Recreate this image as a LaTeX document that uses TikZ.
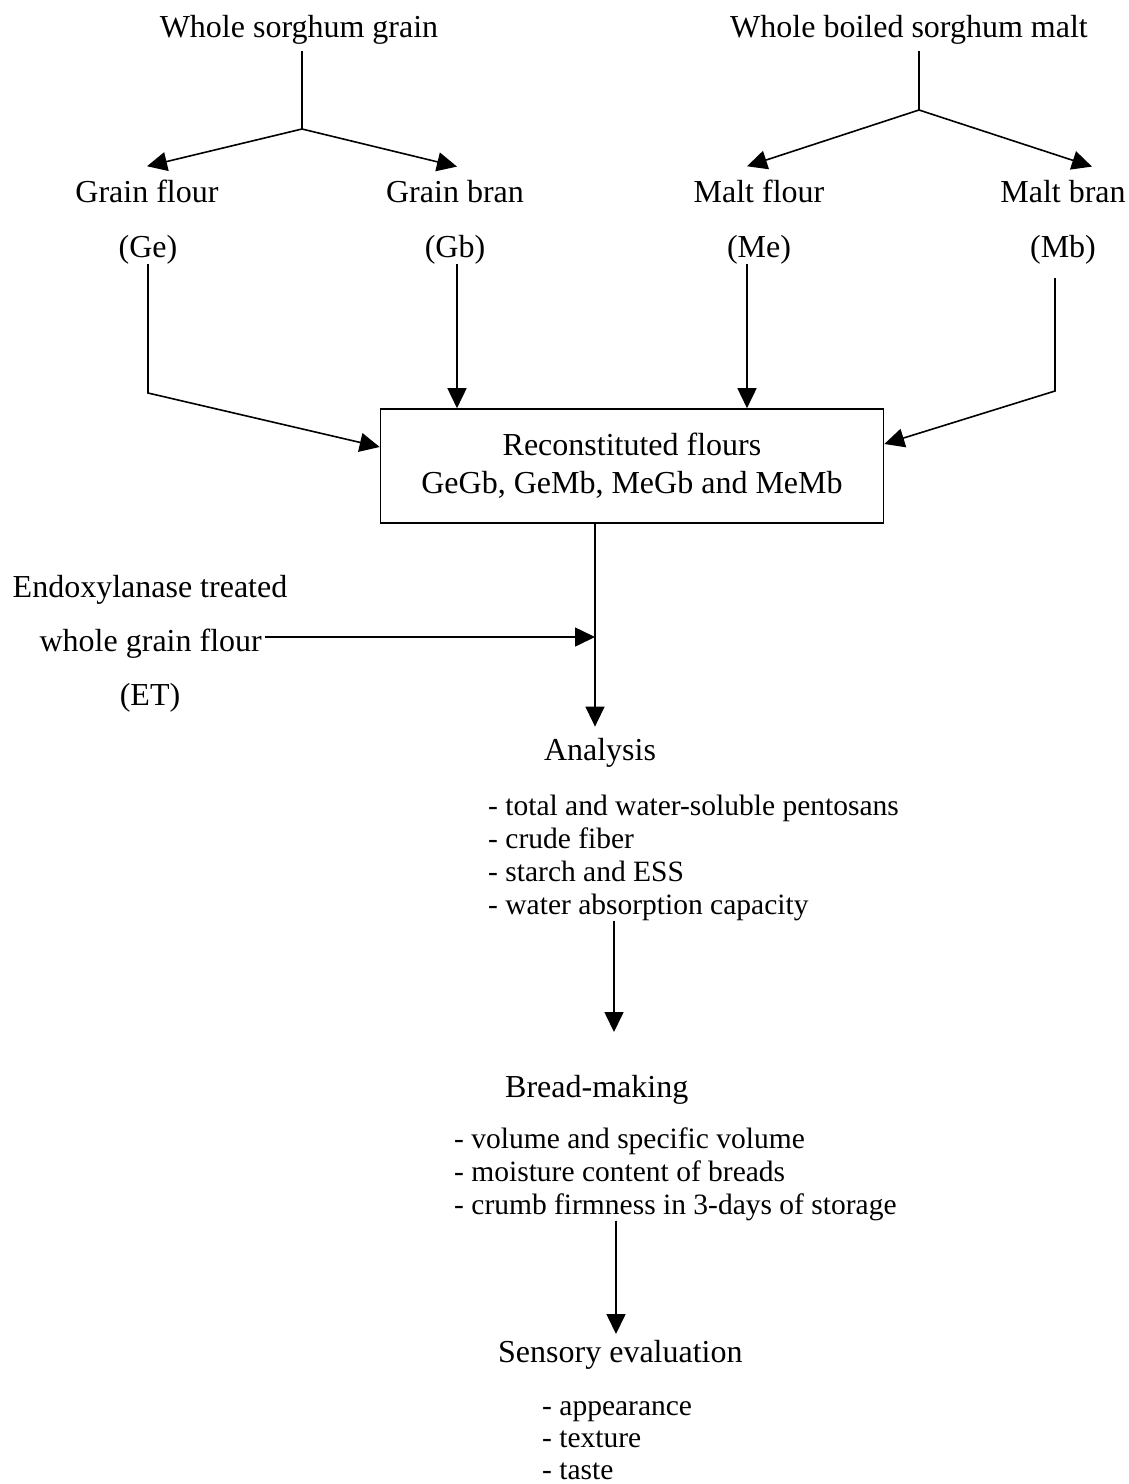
\documentclass[tikz,border=0pt]{standalone}
\usepackage{fontspec}
\setmainfont{Liberation Serif}
\usetikzlibrary{arrows.meta}
\tikzset{
  txt/.style={inner sep=0pt, font=\fontsize{32}{38}\selectfont},
  item/.style={inner sep=0pt, anchor=base west, font=\fontsize{29.5}{33}\selectfont},
  link/.style={line width=1.6pt},
  arr/.style={link, -{Triangle[length=20pt,width=19pt]}},
  flourbox/.style={txt, draw, line width=1.6pt, align=center,
    minimum width=503pt, minimum height=114pt}
}
\begin{document}
\begin{tikzpicture}[x=1pt,y=-1pt]
  \useasboundingbox (0,0) rectangle (1129,1484);
  % grain and malt
  \node[txt,anchor=base] (wsg) at (299,37) {Whole sorghum grain};
  \node[txt,anchor=base] (wsm) at (909,37) {Whole boiled sorghum malt};
  \node[txt,anchor=base] (gflour) at (147,202) {Grain flour};
  \node[txt,anchor=base] (gbran) at (455,202) {Grain bran};
  \node[txt,anchor=base] (mflour) at (759,202) {Malt flour};
  \node[txt,anchor=base] (mbran) at (1063,202) {Malt bran};
  \node[txt,anchor=base] (ge) at (148,257) {(Ge)};
  \node[txt,anchor=base] (gb) at (455,257) {(Gb)};
  \node[txt,anchor=base] (me) at (759,257) {(Me)};
  \node[txt,anchor=base] (mb) at (1063,257) {(Mb)};
  \node[flourbox] (box) at (632,466) {Reconstituted flours\\GeGb, GeMb, MeGb and MeMb};
  % endoxylanase
  \node[txt,anchor=base] (endo) at (150,597) {Endoxylanase treated};
  \node[txt,anchor=base east] (wgf) at (262,651) {whole grain flour};
  \node[txt,anchor=base] (et) at (150,705) {(ET)};
  % analysis, bread, sensory
  \node[txt,anchor=base] (analysis) at (600,760) {Analysis};
  \foreach \t [count=\i] in {- total and water-soluble pentosans, - crude fiber,
      - starch and ESS, - water absorption capacity}
    \node[item] (an\i) at (488,782+33*\i) {\t};
  \node[txt,anchor=base west] (bread) at (505,1097) {Bread-making};
  \foreach \t [count=\i] in {- volume and specific volume, - moisture content of breads,
      - crumb firmness in 3-days of storage}
    \node[item] (br\i) at (454,1115+33*\i) {\t};
  \node[txt,anchor=base west] (sensory) at (498,1362) {Sensory evaluation};
  \foreach \t [count=\i] in {- appearance, - texture, - taste}
    \node[item] (se\i) at (542,1383+32*\i) {\t};

  % splitting
  \coordinate (gj) at (302,129);
  \coordinate (mj) at (919,110);
  \draw[link, shorten <=7pt] (gj |- wsg.south) -- (gj);
  \draw[arr] (gj) -- ([yshift=13pt]gflour.north);
  \draw[arr] (gj) -- ([xshift=2pt,yshift=13pt]gbran.north);
  \draw[link, shorten <=7pt] (mj |- wsm.south) -- (mj);
  \draw[arr] (mj) -- ([xshift=-12pt,yshift=13pt]mflour.north);
  \draw[arr] (mj) -- ([xshift=29pt,yshift=13pt]mbran.north);

  % into the box
  \coordinate (gebend) at (148,393);
  \coordinate (mbbend) at (1055,391);
  \coordinate (gbtop) at ([xshift=2pt]gb.south);
  \coordinate (metop) at ([xshift=-12pt]me.south);
  \draw[arr] (ge.south) -- (gebend) -- ([yshift=19pt]box.west);
  \draw[arr] (gbtop) -- (gbtop |- box.north);
  \draw[arr] (metop) -- (metop |- box.north);
  \draw[arr] ([xshift=-8pt,yshift=-14pt]mb.south) -- (mbbend) -- ([yshift=22pt]box.east);

  % down the middle
  \coordinate (split) at (595,637);
  \draw[link] (box.south -| split) -- (split);
  \draw[arr] (split) -- ([yshift=11pt]split |- analysis.north);
  \draw[arr, shorten <=3pt] (wgf.east |- split) -- (split);
  \coordinate (breadin) at (614,1032);
  \draw[arr] (breadin |- an4.south) -- (breadin);
  \coordinate (sensin) at (616,1334);
  \draw[arr] (sensin |- br3.south) -- (sensin);
\end{tikzpicture}
\end{document}
